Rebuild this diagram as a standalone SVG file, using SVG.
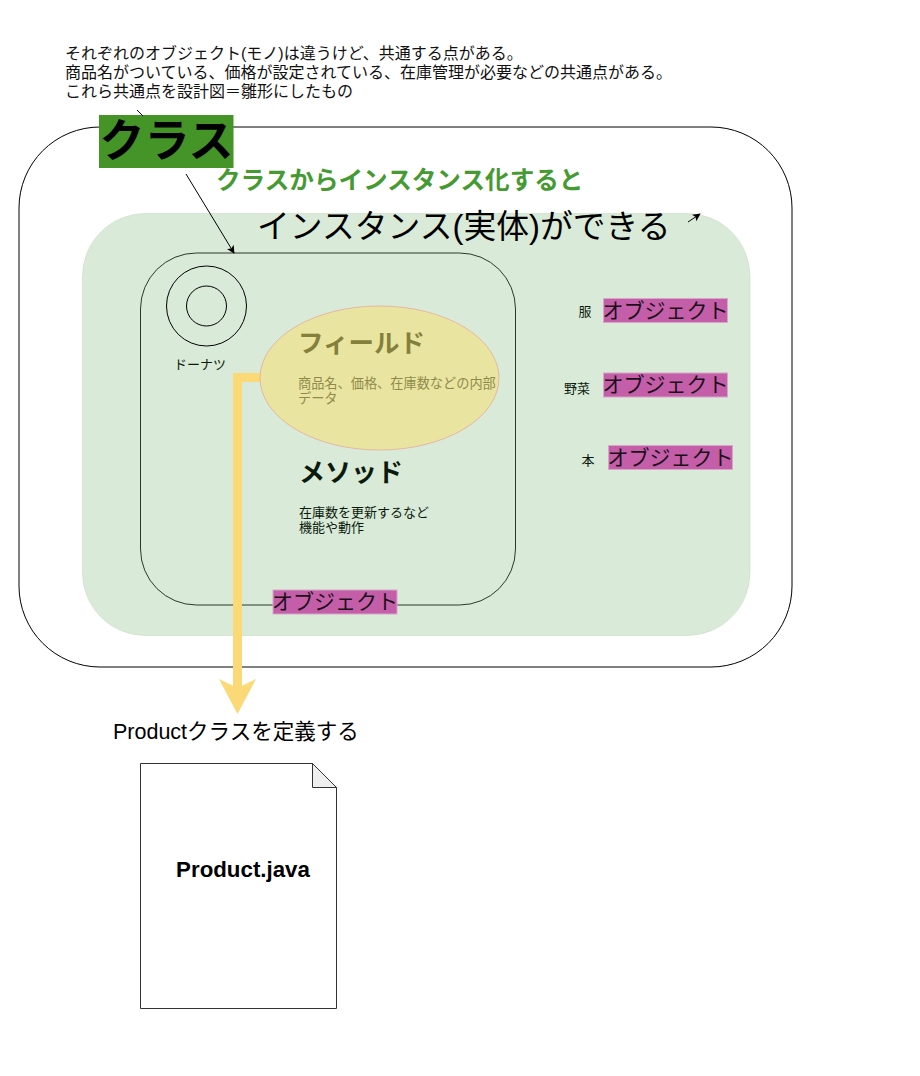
<svg xmlns="http://www.w3.org/2000/svg" width="920" height="1076" viewBox="0 0 920 1076">
<style>
text{font-family:"Liberation Sans","Noto Sans CJK JP",sans-serif;fill:#000}
.line{fill:none;stroke:#000;stroke-width:1}
.s13{font-size:13px;fill:#0c1a0c}
.obj{font-size:21px;fill:#1a0f18}
.intro{font-size:16px;fill:#111}
.objbg{fill:#c45ea8;stroke:#d5a6c8;stroke-width:1}
</style>
<defs>
<marker id="a" viewBox="0 0 10 10" refX="9" refY="5" markerWidth="8" markerHeight="8" orient="auto" markerUnits="userSpaceOnUse"><path d="M0 0L10 5L0 10L2.500 5Z" fill="#000"/></marker>
</defs>
<g id="outer"><rect x="19" y="127" width="773" height="540" rx="81" fill="#fff" stroke="#000"/></g>
<g id="intro"><text x="65" y="59" class="intro">それぞれのオブジェクト(モノ)は違うけど、共通する点がある。</text>
<text x="65" y="78" class="intro">商品名がついている、価格が設定されている、在庫管理が必要などの共通点がある。</text>
<text x="65" y="97" class="intro">これら共通点を設計図＝雛形にしたもの</text></g>
<g id="panel"><rect x="82.500" y="213.500" width="667.500" height="422" rx="63" fill="#d5e8d4" fill-opacity=".9" stroke="#c5dfc0" stroke-width=".6"/></g>
<g id="class-box"><rect x="140.500" y="253" width="375" height="352" rx="56" fill="none" stroke="#0c1a0c" stroke-width="1" opacity=".85"/></g>
<g id="class-label"><rect x="99" y="115" width="134.500" height="53" fill="#459427"/><text x="166.500" y="157" font-size="45" font-weight="bold" text-anchor="middle">クラス</text></g>
<g id="instantiate"><text x="216" y="189" font-size="24.600" font-weight="bold" style="fill:#459a31">クラスからインスタンス化すると</text></g>
<g id="instance"><text x="257" y="238" font-size="32.800">インスタンス(実体)ができる</text></g>
<g id="donut"><circle cx="206.500" cy="306" r="40" class="line"/><circle cx="206.500" cy="306" r="20" class="line"/><text x="200" y="369" class="s13" text-anchor="middle">ドーナツ</text></g>
<g id="connectors">
<path d="M137 110L143 116" class="line"/>
<path d="M186 174L234 253" class="line" marker-end="url(#a)"/>
<path d="M688 222L700 214" class="line" marker-end="url(#a)"/>
<path d="M260 377.500H237.500V697" fill="none" stroke="#fbd977" stroke-width="9"/>
<path d="M237.500 714L219 679L237.500 688L256 679Z" fill="#fbd977"/>
</g>
<g id="field"><ellipse cx="379.500" cy="378" rx="119.500" ry="72" fill="#e9e5a0" stroke="#e6b8a2"/>
<text x="298" y="352" font-size="25.500" font-weight="bold" style="fill:#857f3c">フィールド</text>
<text x="298" y="388" font-size="13.200" style="fill:#8f8a4c">商品名、価格、在庫数などの内部</text>
<text x="298" y="403" font-size="13.200" style="fill:#8f8a4c">データ</text></g>
<g id="method"><text x="299" y="482" font-size="26" font-weight="bold" style="fill:#0c1a0c">メソッド</text>
<text x="299" y="517" class="s13">在庫数を更新するなど</text>
<text x="299" y="532" class="s13">機能や動作</text></g>
<g id="obj-main"><rect x="273" y="590" width="124" height="24" class="objbg"/><text x="335" y="609" class="obj" text-anchor="middle">オブジェクト</text></g>
<g id="obj-clothes"><text x="585" y="316" class="s13" text-anchor="middle">服</text><rect x="603.500" y="298.500" width="124" height="24" class="objbg"/><text x="665.500" y="318" class="obj" text-anchor="middle">オブジェクト</text></g>
<g id="obj-veg"><text x="577" y="393" class="s13" text-anchor="middle">野菜</text><rect x="603.500" y="373" width="124" height="24" class="objbg"/><text x="665.500" y="392" class="obj" text-anchor="middle">オブジェクト</text></g>
<g id="obj-book"><text x="588" y="465" class="s13" text-anchor="middle">本</text><rect x="608.500" y="445.500" width="124" height="24" class="objbg"/><text x="670.500" y="465" class="obj" text-anchor="middle">オブジェクト</text></g>
<g id="define"><text x="113" y="739" font-size="21.500">Productクラスを定義する</text></g>
<g id="file"><path d="M140.500 763.500H312.500L336.500 787.500V1008.500H140.500Z" fill="#fff" stroke="#333"/><path d="M312.500 763.500V787.500H336.500Z" fill="#efefef" stroke="#333"/>
<text x="243" y="877" font-size="22.300" font-weight="bold" text-anchor="middle">Product.java</text></g>
</svg>
